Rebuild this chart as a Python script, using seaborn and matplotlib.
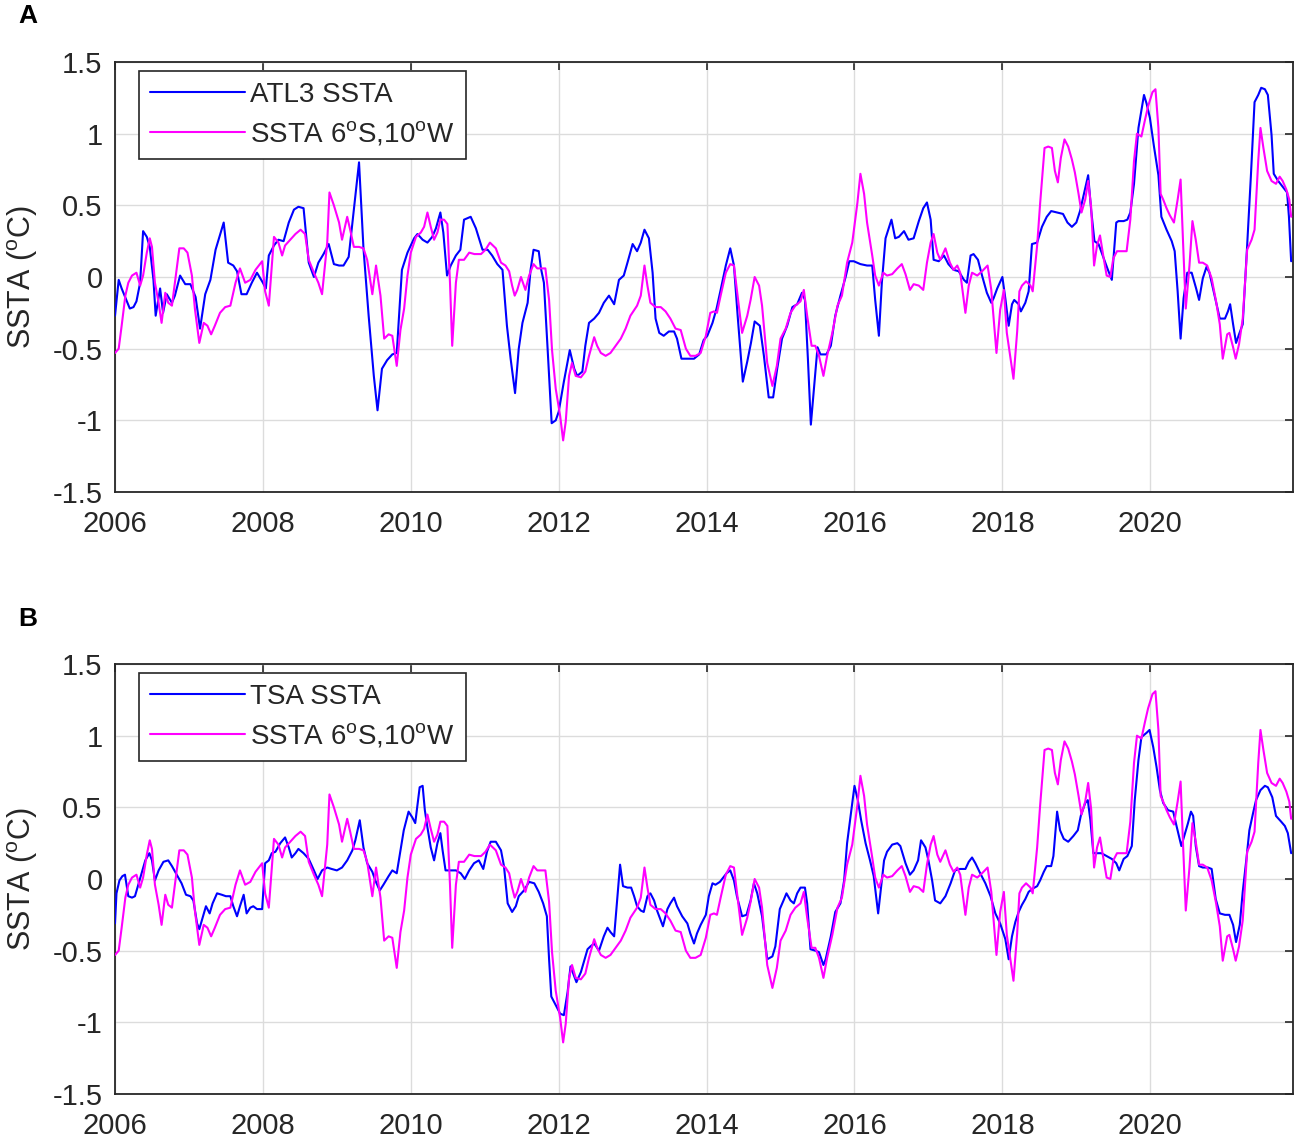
import matplotlib
matplotlib.use("Agg")
import matplotlib.pyplot as plt
import seaborn as sns
import pandas as pd

# ---------------- data ----------------
ATL3_YEAR = [
    2006.00, 2006.05, 2006.09, 2006.20, 2006.25, 2006.29, 2006.34, 2006.38, 2006.43, 2006.47,
    2006.52, 2006.55, 2006.61, 2006.65, 2006.70, 2006.77, 2006.81, 2006.88, 2006.95, 2007.02,
    2007.09, 2007.15, 2007.22, 2007.29, 2007.36, 2007.47, 2007.53, 2007.60, 2007.65, 2007.71,
    2007.78, 2007.85, 2007.92, 2008.00, 2008.04, 2008.08, 2008.15, 2008.21, 2008.28, 2008.35,
    2008.42, 2008.48, 2008.55, 2008.62, 2008.69, 2008.75, 2008.82, 2008.89, 2008.96, 2009.03,
    2009.09, 2009.16, 2009.23, 2009.30, 2009.36, 2009.43, 2009.50, 2009.55, 2009.61, 2009.68,
    2009.75, 2009.81, 2009.88, 2009.955, 2010.045, 2010.09, 2010.16, 2010.225, 2010.29, 2010.34,
    2010.40, 2010.44, 2010.49, 2010.54, 2010.61, 2010.67, 2010.72, 2010.81, 2010.88, 2010.97,
    2011.04, 2011.10, 2011.17, 2011.24, 2011.30, 2011.35, 2011.41, 2011.46, 2011.51, 2011.58,
    2011.62, 2011.66, 2011.73, 2011.76, 2011.80, 2011.85, 2011.905, 2011.96, 2012.00, 2012.07,
    2012.15, 2012.21, 2012.25, 2012.32, 2012.36, 2012.41, 2012.48, 2012.545, 2012.61, 2012.68,
    2012.75, 2012.815, 2012.88, 2012.93, 2013.00, 2013.06, 2013.11, 2013.16, 2013.22, 2013.27,
    2013.31, 2013.36, 2013.42, 2013.49, 2013.56, 2013.60, 2013.66, 2013.74, 2013.83, 2013.90,
    2013.96, 2014.01, 2014.08, 2014.135, 2014.19, 2014.26, 2014.32, 2014.37, 2014.42, 2014.49,
    2014.55, 2014.60, 2014.65, 2014.72, 2014.775, 2014.84, 2014.90, 2014.955, 2015.02, 2015.09,
    2015.16, 2015.225, 2015.29, 2015.33, 2015.37, 2015.41, 2015.46, 2015.50, 2015.54, 2015.62,
    2015.68, 2015.74, 2015.81, 2015.88, 2015.93, 2015.99, 2016.08, 2016.17, 2016.24, 2016.28,
    2016.33, 2016.37, 2016.42, 2016.50, 2016.55, 2016.60, 2016.67, 2016.73, 2016.80, 2016.87,
    2016.93, 2016.98, 2017.03, 2017.07, 2017.14, 2017.21, 2017.27, 2017.34, 2017.41, 2017.48,
    2017.52, 2017.57, 2017.61, 2017.67, 2017.725, 2017.79, 2017.85, 2017.88, 2017.93, 2018.00,
    2018.04, 2018.085, 2018.13, 2018.16, 2018.22, 2018.25, 2018.31, 2018.355, 2018.40, 2018.47,
    2018.535, 2018.60, 2018.66, 2018.74, 2018.82, 2018.88, 2018.94, 2019.00, 2019.05, 2019.12,
    2019.16, 2019.20, 2019.245, 2019.30, 2019.37, 2019.42, 2019.48, 2019.54, 2019.57, 2019.64,
    2019.69, 2019.73, 2019.78, 2019.84, 2019.915, 2019.95, 2019.995, 2020.05, 2020.11, 2020.15,
    2020.22, 2020.29, 2020.33, 2020.37, 2020.41, 2020.45, 2020.50, 2020.56, 2020.62, 2020.66,
    2020.71, 2020.76, 2020.80, 2020.87, 2020.94, 2021.01, 2021.05, 2021.08, 2021.12, 2021.16,
    2021.20, 2021.25, 2021.31, 2021.36, 2021.41, 2021.46, 2021.50, 2021.55, 2021.59, 2021.64,
    2021.67, 2021.73, 2021.79, 2021.85, 2021.875, 2021.905,
]
ATL3_SSTA = [
    -0.27, -0.02, -0.08, -0.22, -0.21, -0.17, -0.04, 0.32, 0.28, 0.21,
    -0.02, -0.27, -0.08, -0.25, -0.12, -0.18, -0.13, 0.01, -0.05, -0.05,
    -0.14, -0.36, -0.12, -0.02, 0.19, 0.38, 0.10, 0.08, 0.04, -0.12,
    -0.12, -0.04, 0.03, -0.04, -0.08, 0.15, 0.22, 0.26, 0.25, 0.38,
    0.47, 0.49, 0.48, 0.10, 0.00, 0.10, 0.16, 0.23, 0.09, 0.08,
    0.08, 0.14, 0.47, 0.80, 0.20, -0.27, -0.69, -0.93, -0.64, -0.58,
    -0.54, -0.53, 0.05, 0.17, 0.27, 0.30, 0.26, 0.24, 0.28, 0.34,
    0.45, 0.31, 0.01, 0.08, 0.15, 0.19, 0.40, 0.42, 0.34, 0.19,
    0.19, 0.15, 0.09, 0.05, -0.34, -0.57, -0.81, -0.50, -0.32, -0.18,
    0.05, 0.19, 0.18, 0.06, -0.04, -0.50, -1.02, -1.00, -0.94, -0.73,
    -0.51, -0.64, -0.69, -0.66, -0.48, -0.32, -0.29, -0.25, -0.18, -0.13,
    -0.19, -0.02, 0.01, 0.10, 0.23, 0.18, 0.24, 0.33, 0.27, 0.03,
    -0.29, -0.39, -0.41, -0.38, -0.38, -0.43, -0.57, -0.57, -0.57, -0.54,
    -0.44, -0.41, -0.32, -0.22, -0.09, 0.08, 0.20, 0.08, -0.27, -0.73,
    -0.59, -0.46, -0.31, -0.34, -0.55, -0.84, -0.84, -0.64, -0.43, -0.34,
    -0.21, -0.19, -0.11, -0.16, -0.57, -1.03, -0.73, -0.49, -0.54, -0.54,
    -0.48, -0.27, -0.13, 0.00, 0.11, 0.11, 0.09, 0.08, 0.08, -0.16,
    -0.41, -0.04, 0.27, 0.40, 0.27, 0.28, 0.32, 0.26, 0.27, 0.39,
    0.48, 0.52, 0.40, 0.12, 0.11, 0.15, 0.09, 0.05, 0.04, -0.02,
    -0.04, 0.15, 0.16, 0.12, 0.01, -0.11, -0.18, -0.15, -0.08, 0.00,
    -0.15, -0.34, -0.19, -0.16, -0.19, -0.24, -0.18, -0.10, 0.23, 0.24,
    0.35, 0.42, 0.46, 0.45, 0.44, 0.38, 0.35, 0.38, 0.46, 0.62,
    0.71, 0.47, 0.25, 0.23, 0.13, 0.06, -0.02, 0.38, 0.39, 0.39,
    0.40, 0.45, 0.65, 1.04, 1.27, 1.21, 1.11, 0.91, 0.71, 0.42,
    0.33, 0.25, 0.18, -0.10, -0.43, -0.15, 0.03, 0.03, -0.08, -0.16,
    -0.01, 0.07, 0.03, -0.13, -0.29, -0.29, -0.24, -0.19, -0.33, -0.46,
    -0.40, -0.33, 0.22, 0.70, 1.22, 1.27, 1.32, 1.31, 1.27, 0.99,
    0.72, 0.67, 0.63, 0.59, 0.42, 0.11,
]

TSA_YEAR = [
    2006.00, 2006.02, 2006.06, 2006.10, 2006.135, 2006.18, 2006.23, 2006.27, 2006.32, 2006.36,
    2006.41, 2006.465, 2006.50, 2006.54, 2006.59, 2006.655, 2006.72, 2006.77, 2006.835, 2006.90,
    2006.96, 2007.02, 2007.06, 2007.11, 2007.14, 2007.19, 2007.23, 2007.28, 2007.32, 2007.38,
    2007.445, 2007.50, 2007.56, 2007.60, 2007.65, 2007.69, 2007.74, 2007.78, 2007.83, 2007.87,
    2007.92, 2007.99, 2008.03, 2008.08, 2008.12, 2008.17, 2008.235, 2008.30, 2008.35, 2008.39,
    2008.44, 2008.48, 2008.55, 2008.62, 2008.69, 2008.74, 2008.80, 2008.87, 2008.93, 2009.00,
    2009.07, 2009.14, 2009.21, 2009.25, 2009.31, 2009.36, 2009.41, 2009.48, 2009.52, 2009.58,
    2009.63, 2009.70, 2009.75, 2009.81, 2009.86, 2009.905, 2009.97, 2010.02, 2010.06, 2010.12,
    2010.16, 2010.19, 2010.225, 2010.27, 2010.315, 2010.36, 2010.40, 2010.43, 2010.47, 2010.54,
    2010.61, 2010.675, 2010.73, 2010.79, 2010.855, 2010.92, 2010.98, 2011.03, 2011.08, 2011.15,
    2011.22, 2011.26, 2011.31, 2011.37, 2011.42, 2011.46, 2011.53, 2011.60, 2011.67, 2011.73,
    2011.79, 2011.84, 2011.87, 2011.90, 2011.96, 2012.02, 2012.07, 2012.12, 2012.16, 2012.21,
    2012.24, 2012.30, 2012.34, 2012.39, 2012.43, 2012.48, 2012.545, 2012.61, 2012.66, 2012.70,
    2012.75, 2012.79, 2012.83, 2012.87, 2012.93, 2012.98, 2013.02, 2013.06, 2013.11, 2013.15,
    2013.20, 2013.24, 2013.29, 2013.33, 2013.38, 2013.41, 2013.47, 2013.51, 2013.56, 2013.60,
    2013.67, 2013.74, 2013.78, 2013.83, 2013.87, 2013.92, 2013.99, 2014.03, 2014.08, 2014.12,
    2014.18, 2014.21, 2014.27, 2014.32, 2014.37, 2014.41, 2014.48, 2014.54, 2014.595, 2014.64,
    2014.685, 2014.75, 2014.82, 2014.89, 2014.93, 2014.99, 2015.04, 2015.08, 2015.135, 2015.18,
    2015.225, 2015.27, 2015.33, 2015.36, 2015.405, 2015.47, 2015.52, 2015.58, 2015.61, 2015.68,
    2015.74, 2015.81, 2015.86, 2015.90, 2015.95, 2016.00, 2016.045, 2016.09, 2016.15, 2016.21,
    2016.26, 2016.32, 2016.35, 2016.40, 2016.44, 2016.51, 2016.58, 2016.62, 2016.69, 2016.75,
    2016.80, 2016.86, 2016.90, 2016.96, 2017.00, 2017.05, 2017.09, 2017.16, 2017.23, 2017.30,
    2017.36, 2017.43, 2017.50, 2017.545, 2017.59, 2017.635, 2017.70, 2017.77, 2017.84, 2017.905,
    2017.97, 2018.04, 2018.085, 2018.13, 2018.175, 2018.22, 2018.265, 2018.31, 2018.355, 2018.40,
    2018.47, 2018.51, 2018.56, 2018.60, 2018.66, 2018.69, 2018.74, 2018.78, 2018.83, 2018.89,
    2018.96, 2019.02, 2019.06, 2019.12, 2019.155, 2019.19, 2019.23, 2019.28, 2019.34, 2019.41,
    2019.48, 2019.54, 2019.58, 2019.64, 2019.69, 2019.75, 2019.79, 2019.84, 2019.88, 2019.95,
    2019.99, 2020.04, 2020.085, 2020.13, 2020.175, 2020.24, 2020.31, 2020.355, 2020.42, 2020.47,
    2020.51, 2020.55, 2020.58, 2020.615, 2020.66, 2020.71, 2020.78, 2020.83, 2020.885, 2020.94,
    2021.01, 2021.07, 2021.12, 2021.16, 2021.21, 2021.25, 2021.30, 2021.34, 2021.39, 2021.43,
    2021.49, 2021.55, 2021.59, 2021.65, 2021.70, 2021.77, 2021.82, 2021.86, 2021.905,
]
TSA_SSTA = [
    -0.31, -0.10, -0.01, 0.02, 0.03, -0.12, -0.13, -0.12, -0.03, 0.04,
    0.13, 0.18, 0.13, -0.01, 0.06, 0.12, 0.13, 0.09, 0.03, -0.03,
    -0.11, -0.12, -0.15, -0.31, -0.35, -0.26, -0.19, -0.24, -0.17, -0.10,
    -0.11, -0.12, -0.12, -0.19, -0.26, -0.19, -0.11, -0.24, -0.20, -0.19,
    -0.21, -0.21, 0.11, 0.13, 0.18, 0.19, 0.25, 0.29, 0.22, 0.15,
    0.18, 0.21, 0.18, 0.14, 0.06, 0.00, 0.06, 0.08, 0.07, 0.06,
    0.08, 0.13, 0.20, 0.27, 0.41, 0.22, 0.11, 0.05, -0.01, -0.08,
    -0.04, 0.02, 0.06, 0.04, 0.20, 0.34, 0.47, 0.43, 0.39, 0.64,
    0.65, 0.48, 0.36, 0.22, 0.13, 0.25, 0.32, 0.20, 0.06, 0.06,
    0.06, 0.04, 0.00, 0.06, 0.11, 0.13, 0.07, 0.19, 0.26, 0.26,
    0.20, 0.09, -0.17, -0.23, -0.19, -0.12, -0.08, -0.02, -0.03, -0.09,
    -0.17, -0.26, -0.56, -0.82, -0.88, -0.94, -0.95, -0.79, -0.61, -0.68,
    -0.72, -0.65, -0.58, -0.49, -0.47, -0.45, -0.50, -0.40, -0.34, -0.37,
    -0.40, -0.15, 0.10, -0.05, -0.06, -0.06, -0.12, -0.19, -0.22, -0.23,
    -0.12, -0.10, -0.15, -0.22, -0.29, -0.33, -0.21, -0.17, -0.13, -0.19,
    -0.26, -0.31, -0.38, -0.45, -0.38, -0.32, -0.25, -0.12, -0.03, -0.04,
    -0.02, 0.00, 0.04, 0.06, -0.01, -0.12, -0.26, -0.25, -0.15, -0.03,
    -0.10, -0.26, -0.56, -0.54, -0.47, -0.21, -0.15, -0.10, -0.15, -0.17,
    -0.10, -0.06, -0.06, -0.17, -0.49, -0.50, -0.51, -0.60, -0.56, -0.40,
    -0.23, -0.17, -0.01, 0.25, 0.45, 0.65, 0.55, 0.41, 0.25, 0.13,
    0.02, -0.24, -0.10, 0.13, 0.19, 0.24, 0.25, 0.23, 0.11, 0.03,
    0.06, 0.13, 0.27, 0.22, 0.13, -0.01, -0.15, -0.17, -0.12, -0.03,
    0.06, 0.07, 0.07, 0.12, 0.15, 0.11, 0.04, -0.03, -0.12, -0.24,
    -0.31, -0.42, -0.56, -0.40, -0.30, -0.23, -0.18, -0.14, -0.09, -0.07,
    -0.05, -0.01, 0.05, 0.09, 0.09, 0.16, 0.47, 0.34, 0.28, 0.26,
    0.30, 0.34, 0.44, 0.53, 0.55, 0.41, 0.18, 0.18, 0.18, 0.16,
    0.14, 0.11, 0.06, 0.14, 0.16, 0.23, 0.55, 0.83, 0.99, 1.02,
    1.04, 0.92, 0.78, 0.62, 0.53, 0.48, 0.47, 0.37, 0.23, 0.32,
    0.39, 0.47, 0.44, 0.23, 0.09, 0.08, 0.08, 0.07, -0.14, -0.24,
    -0.25, -0.25, -0.32, -0.44, -0.32, -0.09, 0.14, 0.34, 0.46, 0.55,
    0.62, 0.65, 0.64, 0.57, 0.44, 0.40, 0.37, 0.32, 0.18,
]

PT_YEAR = [
    2006.00, 2006.05, 2006.09, 2006.14, 2006.18, 2006.23, 2006.29, 2006.34, 2006.38, 2006.43,
    2006.47, 2006.50, 2006.54, 2006.59, 2006.63, 2006.68, 2006.72, 2006.77, 2006.81, 2006.87,
    2006.93, 2006.98, 2007.04, 2007.08, 2007.14, 2007.20, 2007.25, 2007.30, 2007.35, 2007.42,
    2007.49, 2007.56, 2007.63, 2007.69, 2007.76, 2007.83, 2007.90, 2007.99, 2008.03, 2008.08,
    2008.15, 2008.21, 2008.26, 2008.30, 2008.37, 2008.44, 2008.51, 2008.57, 2008.62, 2008.69,
    2008.75, 2008.80, 2008.87, 2008.90, 2008.96, 2009.03, 2009.07, 2009.14, 2009.18, 2009.23,
    2009.30, 2009.36, 2009.41, 2009.48, 2009.53, 2009.59, 2009.64, 2009.70, 2009.75, 2009.81,
    2009.86, 2009.91, 2009.955, 2010.00, 2010.07, 2010.135, 2010.18, 2010.225, 2010.27, 2010.315,
    2010.36, 2010.40, 2010.45, 2010.495, 2010.53, 2010.56, 2010.61, 2010.65, 2010.72, 2010.79,
    2010.86, 2010.95, 2011.01, 2011.07, 2011.15, 2011.22, 2011.28, 2011.33, 2011.37, 2011.405,
    2011.44, 2011.49, 2011.55, 2011.60, 2011.66, 2011.71, 2011.78, 2011.82, 2011.87, 2011.91,
    2011.96, 2012.02, 2012.06, 2012.095, 2012.14, 2012.18, 2012.23, 2012.30, 2012.36, 2012.41,
    2012.48, 2012.52, 2012.57, 2012.635, 2012.70, 2012.77, 2012.84, 2012.905, 2012.97, 2013.06,
    2013.11, 2013.16, 2013.20, 2013.24, 2013.31, 2013.38, 2013.445, 2013.51, 2013.58, 2013.65,
    2013.72, 2013.78, 2013.85, 2013.92, 2013.99, 2014.05, 2014.10, 2014.14, 2014.19, 2014.26,
    2014.32, 2014.37, 2014.41, 2014.48, 2014.55, 2014.595, 2014.65, 2014.71, 2014.75, 2014.82,
    2014.89, 2014.95, 2015.00, 2015.07, 2015.135, 2015.20, 2015.27, 2015.315, 2015.36, 2015.42,
    2015.47, 2015.52, 2015.58, 2015.63, 2015.70, 2015.77, 2015.83, 2015.90, 2015.97, 2016.04,
    2016.08, 2016.13, 2016.17, 2016.24, 2016.28, 2016.33, 2016.39, 2016.44, 2016.51, 2016.58,
    2016.64, 2016.69, 2016.75, 2016.80, 2016.87, 2016.93, 2016.98, 2017.03, 2017.07, 2017.12,
    2017.16, 2017.23, 2017.29, 2017.34, 2017.39, 2017.43, 2017.50, 2017.545, 2017.59, 2017.66,
    2017.725, 2017.80, 2017.85, 2017.92, 2017.97, 2018.02, 2018.06, 2018.15, 2018.20, 2018.23,
    2018.265, 2018.32, 2018.38, 2018.41, 2018.47, 2018.51, 2018.57, 2018.62, 2018.67, 2018.71,
    2018.75, 2018.79, 2018.84, 2018.89, 2018.94, 2018.98, 2019.03, 2019.07, 2019.12, 2019.16,
    2019.20, 2019.24, 2019.28, 2019.32, 2019.37, 2019.41, 2019.46, 2019.50, 2019.55, 2019.61,
    2019.68, 2019.73, 2019.78, 2019.82, 2019.88, 2019.93, 2019.97, 2020.03, 2020.07, 2020.11,
    2020.14, 2020.175, 2020.22, 2020.265, 2020.32, 2020.37, 2020.41, 2020.445, 2020.48, 2020.53,
    2020.57, 2020.615, 2020.66, 2020.71, 2020.77, 2020.83, 2020.89, 2020.94, 2020.98, 2021.04,
    2021.07, 2021.12, 2021.155, 2021.20, 2021.25, 2021.31, 2021.37, 2021.41, 2021.46, 2021.49,
    2021.53, 2021.58, 2021.64, 2021.70, 2021.75, 2021.79, 2021.84, 2021.88, 2021.905,
]
PT_SSTA = [
    -0.53, -0.50, -0.34, -0.13, -0.04, 0.01, 0.03, -0.06, 0.01, 0.17,
    0.27, 0.21, -0.04, -0.18, -0.32, -0.11, -0.18, -0.20, -0.04, 0.20,
    0.20, 0.17, 0.01, -0.22, -0.46, -0.32, -0.34, -0.40, -0.34, -0.25,
    -0.21, -0.20, -0.04, 0.06, -0.04, -0.02, 0.05, 0.11, -0.10, -0.20,
    0.28, 0.24, 0.15, 0.22, 0.26, 0.30, 0.33, 0.30, 0.12, 0.03,
    -0.04, -0.12, 0.24, 0.59, 0.50, 0.38, 0.26, 0.42, 0.33, 0.21,
    0.21, 0.20, 0.12, -0.12, 0.08, -0.13, -0.43, -0.40, -0.41, -0.62,
    -0.37, -0.22, 0.01, 0.17, 0.28, 0.31, 0.35, 0.45, 0.35, 0.26,
    0.31, 0.40, 0.40, 0.37, -0.04, -0.48, -0.04, 0.12, 0.12, 0.17,
    0.16, 0.16, 0.19, 0.24, 0.20, 0.10, 0.08, 0.04, -0.06, -0.13,
    -0.09, 0.00, -0.09, 0.01, 0.09, 0.06, 0.06, 0.06, -0.16, -0.51,
    -0.78, -0.97, -1.14, -1.01, -0.69, -0.60, -0.69, -0.70, -0.66, -0.55,
    -0.42, -0.48, -0.53, -0.55, -0.53, -0.48, -0.43, -0.36, -0.27, -0.20,
    -0.13, 0.08, -0.06, -0.18, -0.21, -0.21, -0.24, -0.29, -0.36, -0.37,
    -0.50, -0.55, -0.55, -0.53, -0.41, -0.25, -0.24, -0.25, -0.13, 0.03,
    0.09, 0.08, -0.09, -0.39, -0.27, -0.16, 0.00, -0.06, -0.20, -0.60,
    -0.76, -0.62, -0.43, -0.36, -0.25, -0.20, -0.17, -0.09, -0.27, -0.48,
    -0.48, -0.55, -0.69, -0.55, -0.39, -0.20, -0.13, 0.10, 0.24, 0.52,
    0.72, 0.58, 0.38, 0.15, 0.01, -0.06, 0.03, 0.01, 0.02, 0.06,
    0.09, 0.02, -0.09, -0.05, -0.06, -0.09, 0.10, 0.24, 0.30, 0.17,
    0.12, 0.20, 0.10, 0.05, 0.08, 0.03, -0.25, -0.06, 0.03, 0.01,
    0.04, 0.08, -0.09, -0.53, -0.23, -0.09, -0.39, -0.71, -0.38, -0.10,
    -0.06, -0.03, -0.06, -0.10, 0.22, 0.51, 0.90, 0.91, 0.90, 0.74,
    0.66, 0.83, 0.96, 0.91, 0.82, 0.73, 0.58, 0.45, 0.54, 0.67,
    0.49, 0.08, 0.22, 0.29, 0.13, 0.01, 0.00, 0.13, 0.18, 0.18,
    0.18, 0.40, 0.81, 1.00, 0.98, 1.10, 1.19, 1.29, 1.31, 1.04,
    0.58, 0.54, 0.48, 0.43, 0.38, 0.54, 0.68, 0.22, -0.22, 0.08,
    0.39, 0.26, 0.10, 0.10, 0.08, -0.01, -0.17, -0.33, -0.57, -0.40,
    -0.39, -0.49, -0.57, -0.47, -0.29, 0.19, 0.26, 0.33, 0.81, 1.04,
    0.90, 0.74, 0.67, 0.65, 0.70, 0.67, 0.61, 0.54, 0.42,
]

X_TICKS = [2006, 2008, 2010, 2012, 2014, 2016, 2018, 2020]
X_TICK_LABELS = ["2006", "2008", "2010", "2012", "2014", "2016", "2018", "2020"]
Y_TICKS = [-1.5, -1, -0.5, 0, 0.5, 1, 1.5]
Y_TICK_LABELS = ["-1.5", "-1", "-0.5", "0", "0.5", "1", "1.5"]

PANEL_LABELS = ["A", "B"]
BLUE_LABELS = ["ATL3 SSTA", "TSA SSTA"]
PT_LABEL = r"SSTA 6$^{\rm o}$S,10$^{\rm o}$W"
Y_LABEL = r"SSTA ($^{\rm o}$C)"

# ---------------- style ----------------
sns.set_theme(style="white")
plt.rcParams["font.family"] = ["Liberation Sans", "DejaVu Sans"]
plt.rcParams["mathtext.fontset"] = "custom"
plt.rcParams["mathtext.rm"] = "Liberation Sans"
plt.rcParams["mathtext.it"] = "Liberation Sans:italic"
plt.rcParams["mathtext.bf"] = "Liberation Sans:bold"

W, H = 1299, 1145
fig = plt.figure(figsize=(W / 100, H / 100), dpi=100)
fig.patch.set_facecolor("white")

ax_rects = [
    [115 / W, 1 - 492 / H, 1178 / W, 430 / H],
    [115 / W, 1 - 1094 / H, 1178 / W, 430 / H],
]
panel_label_y = [16, 619]

blue_sets = [
    pd.DataFrame({"year": ATL3_YEAR, "ssta": ATL3_SSTA}),
    pd.DataFrame({"year": TSA_YEAR, "ssta": TSA_SSTA}),
]
pt_df = pd.DataFrame({"year": PT_YEAR, "ssta": PT_SSTA})

for i in range(2):
    ax = fig.add_axes(ax_rects[i])
    sns.lineplot(data=blue_sets[i], x="year", y="ssta", ax=ax, color="#0000ff",
                 lw=1.5, label=BLUE_LABELS[i], estimator=None, sort=False, zorder=3)
    sns.lineplot(data=pt_df, x="year", y="ssta", ax=ax, color="#ff00ff",
                 lw=1.5, label=PT_LABEL, estimator=None, sort=False, zorder=4)

    ax.set_xlim(2006, 2021.93)
    ax.set_ylim(-1.5, 1.5)
    ax.set_xticks(X_TICKS)
    ax.set_xticklabels(X_TICK_LABELS)
    ax.set_yticks(Y_TICKS)
    ax.set_yticklabels(Y_TICK_LABELS)
    ax.grid(True, color="#dcdcdc", lw=1.0, zorder=0)
    ax.set_axisbelow(True)
    ax.tick_params(axis="both", direction="in", top=True, right=True,
                   length=6, width=1.2, color="#262626", labelcolor="#262626",
                   labelsize=21)
    ax.tick_params(axis="x", pad=13)
    ax.tick_params(axis="y", pad=9)
    for s in ax.spines.values():
        s.set_color("#262626")
        s.set_linewidth(1.3)
    ax.set_xlabel("")
    ax.set_ylabel(Y_LABEL, fontsize=22, color="#262626", labelpad=9)

    leg = ax.legend(loc="upper left", bbox_to_anchor=(0.0204, 0.979),
                    borderaxespad=0, fontsize=20, frameon=True, fancybox=False,
                    handlelength=3.4, handletextpad=0.2, borderpad=0.4,
                    labelspacing=0.42)
    leg.get_frame().set_edgecolor("#262626")
    leg.get_frame().set_linewidth(1.2)
    leg.get_frame().set_facecolor("white")
    leg.get_frame().set_alpha(1)
    for t in leg.get_texts():
        t.set_color("#262626")
    for ln in leg.get_lines():
        ln.set_linewidth(1.5)

    fig.text(28 / W, 1 - panel_label_y[i] / H, PANEL_LABELS[i], fontsize=19,
             fontweight="bold", ha="center", va="center", color="black")

fig.savefig("out.png", dpi=100, facecolor="white")
